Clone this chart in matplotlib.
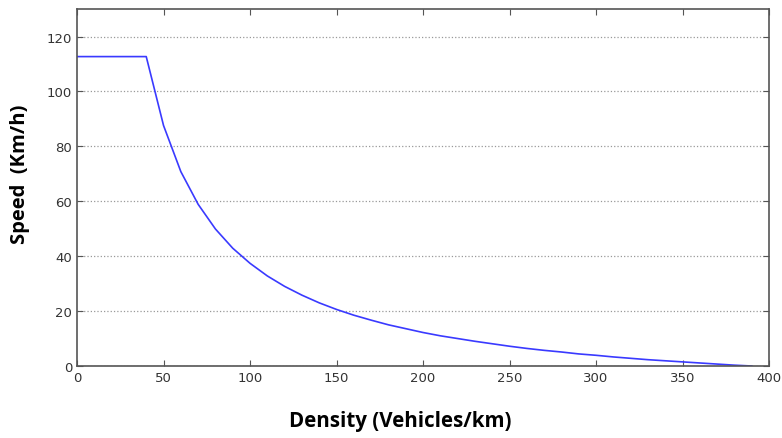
import matplotlib
matplotlib.use("Agg")
import matplotlib.pyplot as plt

# Density (vehicles/km) and speed (km/h)
density = [0, 10, 20, 30, 40, 50, 60, 70, 80, 90, 100, 110, 120, 130, 140,
           150, 160, 170, 180, 190, 200, 210, 220, 230, 240, 250, 260, 270,
           280, 290, 300, 310, 320, 330, 340, 350, 360, 370, 380, 390]
speed = [112.7, 112.7, 112.7, 112.7, 112.7, 87.6, 70.8, 58.9, 49.9, 42.9,
         37.4, 32.8, 29.0, 25.8, 23.0, 20.6, 18.5, 16.7, 15.0, 13.6, 12.2,
         11.0, 10.0, 9.0, 8.1, 7.2, 6.4, 5.7, 5.1, 4.4, 3.9, 3.3, 2.8, 2.3,
         1.9, 1.5, 1.1, 0.7, 0.3, 0.0]

fig = plt.figure(figsize=(7.82, 4.39), dpi=100)
ax = fig.add_axes([0.0985, 0.164, 0.885, 0.813])

ax.plot(density, speed, color="#3a3aff", linewidth=1.2)

ax.set_xlim(0, 400)
ax.set_ylim(0, 130)
ax.set_xticks(range(0, 401, 50))
ax.set_yticks(range(0, 121, 20))

ax.grid(axis="y", linestyle=":", color="#999999", linewidth=0.9)
ax.set_axisbelow(True)

for s in ax.spines.values():
    s.set_color("#555555")
    s.set_linewidth(1.2)
ax.tick_params(direction="in", top=True, right=True, length=4,
               color="#555555", labelcolor="#333333", labelsize=9.5)

label_font = dict(family="Open Sans", fontweight="bold", color="black")
fig.text(0.512, 0.039, "Density (Vehicles/km)", ha="center", va="center",
         fontsize=14.8, **label_font)
fig.text(0.025, 0.604, "Speed  (Km/h)", ha="center", va="center", rotation=90,
         fontsize=14.5, **label_font)

fig.savefig("out.png", dpi=100)
